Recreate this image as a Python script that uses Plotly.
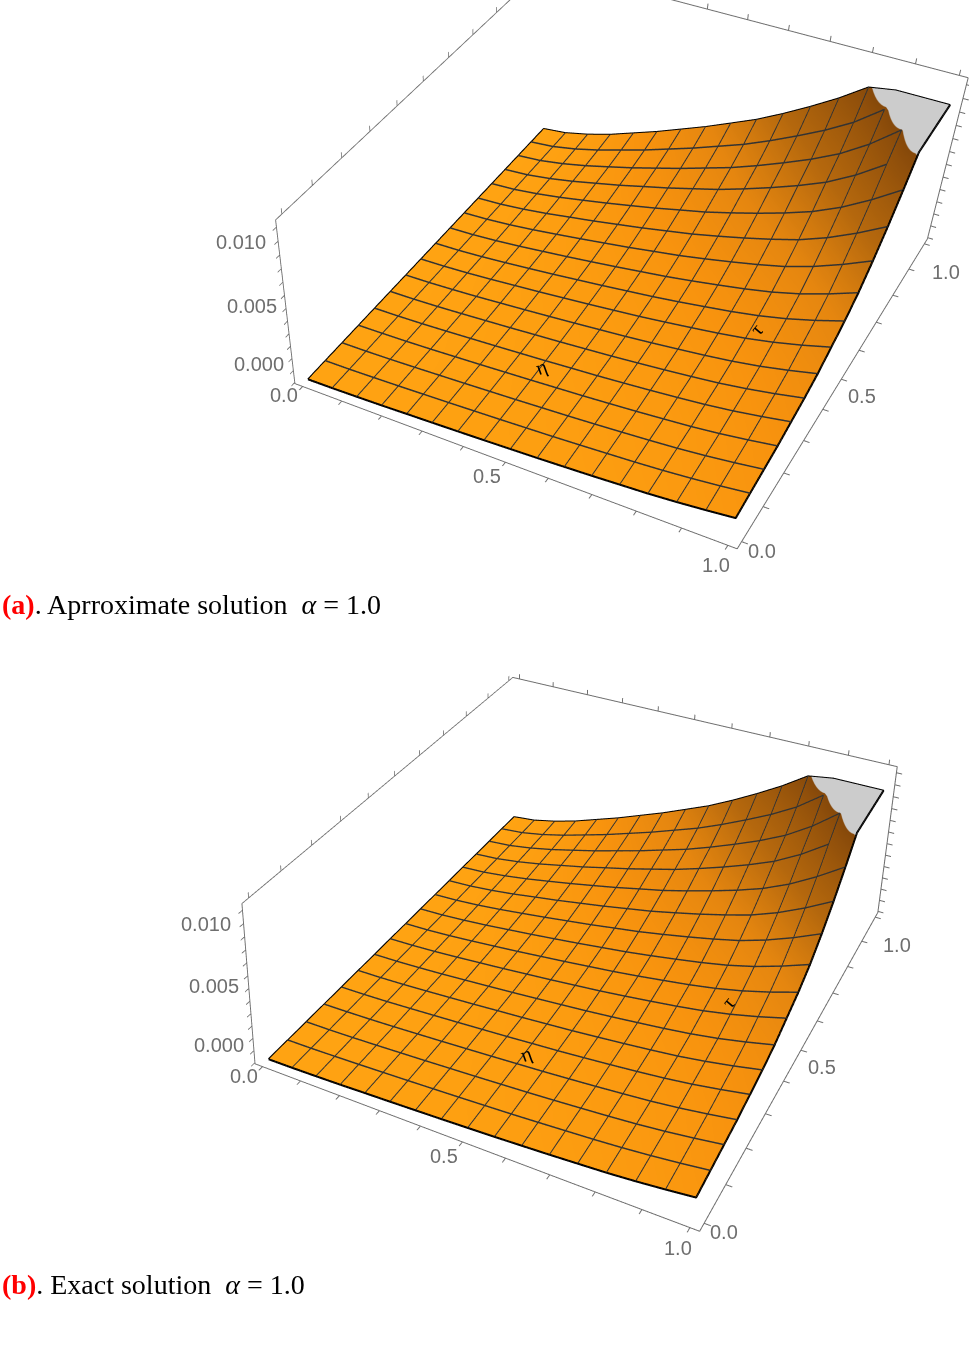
"""Two 3D surfaces: approximate and exact solution at alpha = 1.0."""
import numpy as np
import plotly.graph_objects as go

eta = [i / 16 for i in range(17)]
tau = [j / 16 for j in range(17)]

# z, one row per tau
z_approx = [
    [0, .00002, .00006, .00011, .00018, .00024, .00031, .00038, .00046, .00054, .00064, .00074, .00086, .00098, .00115, .00136, .00160],
    [0, .00002, .00007, .00013, .00020, .00027, .00035, .00043, .00052, .00061, .00072, .00084, .00096, .00111, .00130, .00153, .00180],
    [0, .00002, .00007, .00014, .00022, .00030, .00039, .00048, .00058, .00068, .00080, .00093, .00107, .00123, .00144, .00170, .00200],
    [0, .00003, .00008, .00015, .00024, .00033, .00043, .00053, .00064, .00075, .00088, .00102, .00118, .00135, .00158, .00187, .00220],
    [0, .00003, .00009, .00018, .00028, .00038, .00049, .00060, .00073, .00085, .00100, .00116, .00134, .00154, .00180, .00213, .00250],
    [0, .00003, .00010, .00020, .00031, .00042, .00055, .00067, .00081, .00095, .00112, .00130, .00150, .00172, .00202, .00238, .00280],
    [0, .00004, .00012, .00022, .00035, .00048, .00062, .00077, .00093, .00109, .00128, .00149, .00171, .00197, .00230, .00272, .00320],
    [0, .00005, .00014, .00027, .00042, .00057, .00074, .00091, .00110, .00129, .00152, .00177, .00203, .00234, .00274, .00323, .00380],
    [0, .00005, .00016, .00031, .00048, .00066, .00086, .00106, .00128, .00150, .00176, .00205, .00235, .00271, .00317, .00374, .00440],
    [0, .00006, .00019, .00036, .00057, .00078, .00101, .00125, .00151, .00177, .00208, .00242, .00278, .00320, .00374, .00442, .00520],
    [0, .00008, .00023, .00044, .00069, .00095, .00123, .00151, .00183, .00214, .00252, .00293, .00337, .00387, .00454, .00536, .00630],
    [0, .00009, .00028, .00053, .00084, .00114, .00148, .00182, .00220, .00258, .00304, .00353, .00407, .00467, .00547, .00646, .00760],
    [0, .00011, .00034, .00064, .00100, .00137, .00177, .00218, .00264, .00309, .00364, .00423, .00487, .00560, .00655, .00774, .00910],
    [0, .00013, .00040, .00076, .00119, .00162, .00211, .00259, .00313, .00367, .00432, .00502, .00578, .00664, .00778, .00918, .01080],
    [0, .00015, .00046, .00087, .00136, .00186, .00242, .00298, .00360, .00422, .00496, .00577, .00663, .00763, .00893, .01054, .01240],
    [0, .00017, .00053, .00101, .00158, .00216, .00281, .00346, .00418, .00490, .00576, .00670, .00770, .00886, .01037, .01224, .01440],
    [0, .00020, .00063, .00118, .00186, .00254, .00330, .00406, .00490, .00575, .00676, .00786, .00904, .01039, .01217, .01437, .01690],
]
z_exact = [row[:] for row in z_approx]

xy_ticks = [i / 10 for i in range(11)]
z_ticks = [i / 1000 for i in range(13)]

Z_TOP = 0.0107
Z_RANGE = [-0.0001, 0.0125]
XY_RANGE = [-0.02, 1.02]
GREY = "#6e6e6e"
SCENE_H = 1320
FOCAL = SCENE_H / (2 * np.tan(np.pi / 8))


def add_surface(fig, z_rows, scene):
    raw = np.array(z_rows)
    clipped = np.minimum(raw, Z_TOP)
    top = Z_TOP / raw.max()
    scale = [[0, "#ffa312"], [0.12, "#f8930e"], [0.25, "#e5860f"], [0.4, "#b5680d"],
             [top - 0.001, "#85480a"], [top, "#cccccc"], [1, "#cccccc"]]
    fig.add_trace(go.Surface(
        x=eta, y=tau, z=clipped, surfacecolor=raw, cmin=0, cmax=raw.max(),
        colorscale=scale, showscale=False, scene=scene, hoverinfo="skip",
        lighting=dict(ambient=1, diffuse=0, specular=0, roughness=1, fresnel=0),
    ))
    # mesh lines, left off on the flat cap
    lifted = np.where(raw > Z_TOP, np.nan, raw + 0.00004)
    for j in range(1, 16):
        fig.add_trace(go.Scatter3d(x=eta, y=[tau[j]] * 17, z=lifted[j], mode="lines", scene=scene,
                                   line=dict(color="#333333", width=3), hoverinfo="skip", showlegend=False))
    for i in range(1, 16):
        fig.add_trace(go.Scatter3d(x=[eta[i]] * 17, y=tau, z=lifted[:, i], mode="lines", scene=scene,
                                   line=dict(color="#333333", width=2), hoverinfo="skip", showlegend=False))
    # black outline of the sheet
    n = len(eta) - 1
    edge_x = [eta[i] for i in range(n + 1)] + [eta[n]] * n + [eta[i] for i in range(n - 1, -1, -1)] + [eta[0]] * n
    edge_y = [tau[0]] * (n + 1) + [tau[j] for j in range(1, n + 1)] + [tau[n]] * n + [tau[j] for j in range(n - 1, -1, -1)]
    edge_z = list(clipped[0]) + list(clipped[1:, n]) + list(clipped[n, n - 1::-1]) + list(clipped[n - 1::-1, 0])
    fig.add_trace(go.Scatter3d(x=edge_x, y=edge_y, z=edge_z, mode="lines", scene=scene,
                               line=dict(color="black", width=4), hoverinfo="skip", showlegend=False))


def axis(ticks, rng):
    return dict(
        range=rng, tickvals=ticks, showticklabels=False, title="", showgrid=False, zeroline=False,
        showbackground=False, showline=True, linecolor=GREY, linewidth=2, mirror="all",
        ticks="outside", ticklen=5, tickwidth=2, tickcolor=GREY, showspikes=False,
    )


def camera(az, el, d, shift_x, shift_y):
    # the scene is moved to its spot with the camera centre
    a, b = np.radians(az), np.radians(el)
    v = np.array([np.sin(a) * np.cos(b), -np.cos(a) * np.cos(b), np.sin(b)])
    e = d * v
    r = np.cross([0, 0, 1], v)
    r = r / np.linalg.norm(r)
    u = np.cross(v, r)
    c = -(shift_x * d / FOCAL) * r - (shift_y * d / FOCAL) * u
    return dict(eye=dict(x=e[0], y=e[1], z=e[2]), center=dict(x=c[0], y=c[1], z=c[2]), up=dict(x=0, y=0, z=1))


def tick_label(text, x, y, z, dx, dy):
    return dict(x=x, y=y, z=z, text=text, xshift=dx, yshift=dy, showarrow=False,
                font=dict(family="Liberation Sans", size=20, color=GREY))


def tick_labels(shifts):
    x0, x1 = XY_RANGE
    z0 = Z_RANGE[0]
    return [
        tick_label("0.0", 0.0, x0, z0, *shifts[0]),
        tick_label("0.5", 0.5, x0, z0, *shifts[1]),
        tick_label("1.0", 1.0, x0, z0, *shifts[2]),
        tick_label("0.0", x1, 0.0, z0, *shifts[3]),
        tick_label("0.5", x1, 0.5, z0, *shifts[4]),
        tick_label("1.0", x1, 1.0, z0, *shifts[5]),
        tick_label("0.000", x0, x0, 0.0, *shifts[6]),
        tick_label("0.005", x0, x0, 0.005, *shifts[7]),
        tick_label("0.010", x0, x0, 0.010, *shifts[8]),
    ]


label_shifts = [(-19, -9), (-18, -14), (-12, -20), (20, -9), (21, -17), (22, -28), (-36, 18), (-36, 15), (-39, 13)]


def scene_layout(domain_y, cam, x_ratio, y_ratio):
    return dict(
        domain=dict(x=[0, 1], y=domain_y), bgcolor="rgba(0,0,0,0)",
        xaxis=axis(xy_ticks, XY_RANGE),
        yaxis=axis(xy_ticks, XY_RANGE),
        zaxis=axis(z_ticks, Z_RANGE),
        aspectmode="manual", aspectratio=dict(x=x_ratio, y=y_ratio, z=0.394),
        camera=cam, annotations=tick_labels(label_shifts),
    )


fig = go.Figure()
add_surface(fig, z_approx, "scene")
add_surface(fig, z_exact, "scene2")

fig.update_layout(
    width=969, height=1362, margin=dict(l=0, r=0, t=0, b=0), paper_bgcolor="white", showlegend=False,
    scene=scene_layout([1 - SCENE_H / 1362, 1], camera(22.36, 34.9, 3.41, 115.5, 439.5), 0.98, 1.10),
    scene2=scene_layout([0, SCENE_H / 1362], camera(23.7, 34, 3.47, 114.5, -202), 0.975, 1.147),
    annotations=[
        dict(x=0, y=1 - 604 / 1362, xref="paper", yref="paper", xanchor="left", yanchor="middle", showarrow=False,
             text="<b><span style='color:#ff0000'>(a)</span></b>. Aprroximate solution  <i>α</i>&nbsp;= 1.0",
             font=dict(family="Liberation Serif", size=28, color="black")),
        dict(x=0, y=1 - 1284 / 1362, xref="paper", yref="paper", xanchor="left", yanchor="middle", showarrow=False,
             text="<b><span style='color:#ff0000'>(b)</span></b>. Exact solution  <i>α</i>&nbsp;= 1.0",
             font=dict(family="Liberation Serif", size=28, color="black")),
        dict(x=541 / 969, y=1 - 352 / 1362, xref="paper", yref="paper", showarrow=False, text="η", textangle=-20,
             font=dict(family="Liberation Serif", size=20, color="black")),
        dict(x=770 / 969, y=1 - 316 / 1362, xref="paper", yref="paper", showarrow=False, text="τ", textangle=-50,
             font=dict(family="Liberation Serif", size=20, color="black")),
        dict(x=526 / 969, y=1 - 1070 / 1362, xref="paper", yref="paper", showarrow=False, text="η", textangle=-20,
             font=dict(family="Liberation Serif", size=20, color="black")),
        dict(x=742 / 969, y=1 - 1015 / 1362, xref="paper", yref="paper", showarrow=False, text="τ", textangle=-50,
             font=dict(family="Liberation Serif", size=20, color="black")),
    ],
)

fig.write_html("out.html", config={"displayModeBar": False},
               post_script="document.body.style.margin='0';document.body.style.overflow='hidden';")
